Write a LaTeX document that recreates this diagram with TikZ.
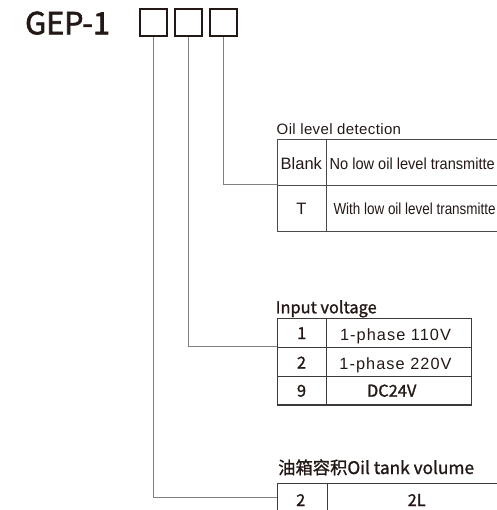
\documentclass[tikz,border=0pt]{standalone}
\usepackage{fontspec}
\setmainfont{Liberation Sans}
\newfontfamily\cjk[FakeBold=1.2]{Noto Sans CJK SC}
\newfontfamily\cjkb[FakeBold=2.2]{Noto Sans CJK SC}
\newfontfamily\arl{Liberation Sans}
\newfontfamily\arlsp[LetterSpace=6.5]{Liberation Sans}
\newfontfamily\arlt[LetterSpace=2.5]{Liberation Sans}
\definecolor{ink}{HTML}{231815}
\definecolor{rulec}{HTML}{3E3A39}
\definecolor{rulel}{HTML}{4A4A4A}
\definecolor{connc}{HTML}{808080}
\tikzset{
  digitbox/.style={draw=ink,line width=1.2pt,minimum size=27pt,inner sep=0pt},
  cellthin/.style={draw=rulel,line width=1pt,inner sep=0pt,anchor=north west},
  cellthick/.style={draw=rulec,line width=1.3pt,inner sep=0pt,anchor=north west},
  connector/.style={draw=connc,line width=1pt},
  txt/.style={text=ink,inner sep=0pt},
  arialtxt/.style={txt,font=\arl\fontsize{16pt}{18pt}\selectfont},
  arialbig/.style={txt,font=\arl\fontsize{16.5pt}{18pt}\selectfont},
  cjktxt/.style={txt,font=\cjk\fontsize{16.4pt}{19pt}\selectfont},
}
\begin{document}
\begin{tikzpicture}[x=1pt,y=-1pt]
\useasboundingbox (0,0) rectangle (496,510);

% title
\node[txt,anchor=base west,font=\cjkb\fontsize{30.5pt}{34pt}\selectfont] (title) at (25,34.3) {GEP-1};

% code boxes
\node[digitbox] (b1) at (153.5,22.5) {};
\node[digitbox] (b2) at (188.5,22.5) {};
\node[digitbox] (b3) at (223.5,22.5) {};

% ---------- table 1: oil level detection
\node[txt,anchor=base west,font=\arlt\fontsize{15pt}{18pt}\selectfont] (t1title) at (276.5,134.5) {Oil level detection};
\node[cellthin,minimum width=49.3pt,minimum height=46pt] (t1a) at (276.7,139) {};
\node[cellthin,minimum width=220pt,minimum height=46pt] (t1b) at (326,139) {};
\node[cellthin,minimum width=49.3pt,minimum height=45.5pt] (t1c) at (276.7,185) {};
\node[cellthin,minimum width=220pt,minimum height=45.5pt] (t1d) at (326,185) {};
\node[arialbig,anchor=base] (t1blank) at (301.3,169.8) {Blank};
\node[arialtxt,anchor=base west] (t1no) at (329.5,169.8) {\scalebox{0.91}[1]{No low oil level transmitte}};
\node[arialbig,anchor=base] (t1t) at (301.3,214.5) {T};
\node[arialtxt,anchor=base west] (t1with) at (333.3,214.5) {\scalebox{0.84}[1]{With low oil level transmitte}};

% ---------- table 2: input voltage
\node[cjktxt,anchor=base west] (t2title) at (275.5,313.3) {Input voltage};
\node[cellthick,minimum width=49.3pt,minimum height=29pt] (t2a) at (276.7,317.7) {};
\node[cellthick,minimum width=145pt,minimum height=29pt] (t2b) at (326,317.7) {};
\node[cellthick,minimum width=49.3pt,minimum height=29pt] (t2c) at (276.7,346.7) {};
\node[cellthick,minimum width=145pt,minimum height=29pt] (t2d) at (326,346.7) {};
\node[cellthick,minimum width=49.3pt,minimum height=28.6pt] (t2e) at (276.7,375.7) {};
\node[cellthick,minimum width=145pt,minimum height=28.6pt] (t2f) at (326,375.7) {};
\node[cjktxt,anchor=base] (t2one) at (301.7,339) {1};
\node[txt,anchor=base,font=\arlsp\fontsize{16.3pt}{19pt}\selectfont] (t2v1) at (395.5,340) {1-phase 110V};
\node[cjktxt,anchor=base] (t2two) at (301.5,368.5) {2};
\node[txt,anchor=base,font=\arlsp\fontsize{16.3pt}{19pt}\selectfont] (t2v2) at (395.5,369) {1-phase 220V};
\node[cjktxt,anchor=base] (t2nine) at (301.5,396.7) {9};
\node[cjktxt,anchor=base] (t2dc) at (391.7,396.7) {DC24V};

% ---------- table 3: oil tank volume
\node[txt,anchor=base west,font=\cjk\fontsize{17.3pt}{20pt}\selectfont] (t3title) at (278,474) {油箱容积Oil tank volume};
\node[cellthick,minimum width=50pt,minimum height=28.5pt] (t3a) at (276.7,482.7) {};
\node[cellthick,minimum width=180pt,minimum height=28.5pt] (t3b) at (326.7,482.7) {};
\node[cjktxt,anchor=base] (t3two) at (300.7,506) {2};
\node[cjktxt,anchor=base] (t3vol) at (416.7,506) {2L};

% connectors
\draw[connector] (b3.south) |- (t1c.north west);
\draw[connector] (b2.south) |- (t2c.north west);
\draw[connector] (b1.south) |- (t3a.west);
\end{tikzpicture}
\end{document}
